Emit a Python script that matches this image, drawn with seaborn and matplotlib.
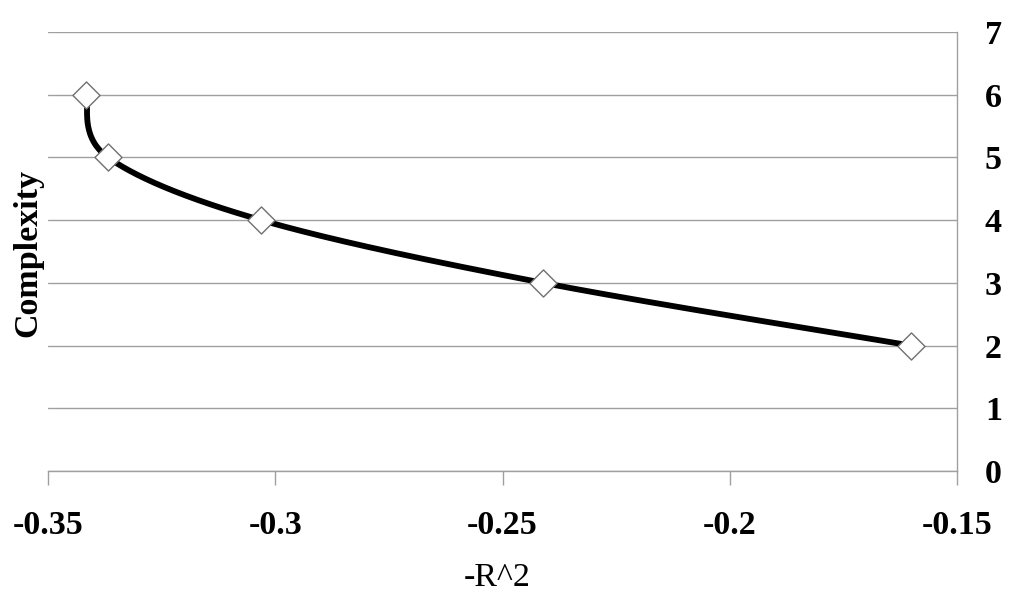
import numpy as np
import matplotlib
matplotlib.use("Agg")
import matplotlib.pyplot as plt
import seaborn as sns

# values
neg_r2 = [-0.3416, -0.3368, -0.3031, -0.2411, -0.1601]
complexity = [6, 5, 4, 3, 2]
x_ticks = [-0.35, -0.3, -0.25, -0.2, -0.15]
x_tick_labels = ["-0.35", "-0.3", "-0.25", "-0.2", "-0.15"]
y_ticks = [0, 1, 2, 3, 4, 5, 6, 7]

sns.set_theme(style="white")
plt.rcParams["font.family"] = ["Liberation Serif", "DejaVu Serif"]
plt.rcParams["text.color"] = "black"
plt.rcParams["axes.labelcolor"] = "black"
plt.rcParams["xtick.color"] = "black"
plt.rcParams["ytick.color"] = "black"

fig = plt.figure(figsize=(10.24, 6), dpi=100)
ax = fig.add_axes([0.0469, 0.215, 0.8877, 0.7317])

# Excel-style smoothed line: bezier with catmull-rom control points,
# computed in (roughly) screen-proportional space
sx, sy = 909 / 0.2, 439 / 7.0
pts = np.column_stack([np.array(neg_r2) * sx, np.array(complexity) * sy])
n = len(pts)
curve = []
for i in range(n - 1):
    p0 = pts[max(i - 1, 0)]
    p1 = pts[i]
    p2 = pts[i + 1]
    p3 = pts[min(i + 2, n - 1)]
    c1 = p1 + (p2 - p0) / 6
    c2 = p2 - (p3 - p1) / 6
    t = np.linspace(0, 1, 60)[:, None]
    seg = ((1 - t) ** 3 * p1 + 3 * (1 - t) ** 2 * t * c1
           + 3 * (1 - t) * t ** 2 * c2 + t ** 3 * p2)
    curve.append(seg if i == 0 else seg[1:])
curve = np.vstack(curve)

sns.lineplot(x=curve[:, 0] / sx, y=curve[:, 1] / sy, sort=False, estimator=None,
             color="black", linewidth=4.2, ax=ax, zorder=3)
sns.scatterplot(x=neg_r2, y=complexity, marker="D", s=190, color="white",
                edgecolor="#707070", linewidth=1.0, ax=ax, zorder=4)

ax.set_xlim(-0.35, -0.15)
ax.set_ylim(0, 7)
ax.set_xticks(x_ticks)
ax.set_xticklabels(x_tick_labels)
ax.set_yticks(y_ticks)
ax.yaxis.tick_right()

grid_c = "#a0a0a0"
ax.grid(axis="y", color=grid_c, linewidth=1.0)
ax.grid(axis="x", visible=False)
for side in ["left", "top"]:
    ax.spines[side].set_visible(False)
for side in ["right", "bottom"]:
    ax.spines[side].set_color(grid_c)
    ax.spines[side].set_linewidth(1.0)

ax.tick_params(axis="x", direction="out", length=10, width=1.0, color=grid_c,
               labelcolor="black", pad=18, labelsize=24.5, bottom=True)
ax.tick_params(axis="y", length=0, pad=20, labelsize=24.5, labelcolor="black",
               right=True, left=False)
for lab in ax.get_xticklabels() + ax.get_yticklabels():
    lab.set_fontweight("bold")

ax.set_ylabel("Complexity", fontsize=24.5, fontweight="bold", color="black")
ax.yaxis.set_label_position("left")
ax.yaxis.set_label_coords(-0.022, 0.497)
ax.yaxis.label.set_va("center")
ax.set_xlabel("-R^2", fontsize=24.5, color="black")
ax.xaxis.set_label_coords(0.494, -0.244)
ax.xaxis.label.set_va("center")

fig.savefig("out.png", dpi=100)
